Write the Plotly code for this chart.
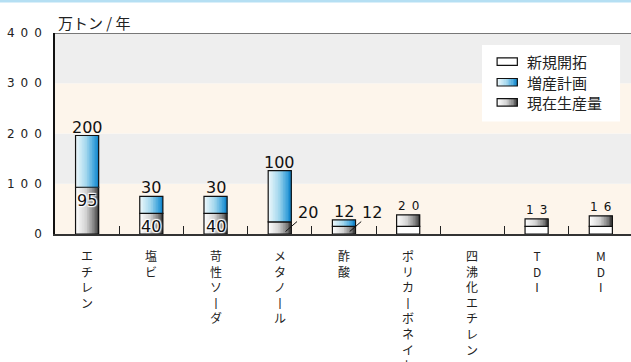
import plotly.graph_objects as go

# ---------------- data ----------------
categories = ['エチレン', '塩ビ', '苛性ソーダ', 'メタノール', '酢酸',
              'ポリカーボネイト', '四沸化エチレン', 'TDI', 'MDI']
# heights of each segment as drawn in the chart (万トン/年 axis units)
new_h = [0, 0, 0, 0, 0, 15, 0, 15, 15]          # 新規開拓
cur_h = [93, 41, 41, 24, 15, 23, 0, 15, 21]      # 現在生産量
exp_h = [103, 34, 34, 102, 13, 0, 0, 0, 0]       # 増産計画
# value labels printed on the chart
new_lbl = ['', '', '', '', '', '20', '', '13', '16']
cur_lbl = ['95', '40', '40', '20', '12', '', '', '', '']
exp_lbl = ['200', '30', '30', '100', '12', '', '', '', '']
y_ticks = [0, 100, 200, 300, 400]
legend_names = ['新規開拓', '増産計画', '現在生産量']
unit_title = '万トン / 年'

# ---------------- style ----------------
JP = 'Noto Sans CJK JP'
NUM = 'DejaVu Sans'
W = 0.36
N = 14
gray_scale = [(0, (255, 255, 255)), (0.45, (212, 212, 212)), (0.8, (128, 128, 128)), (1, (55, 55, 55))]
blue_scale = [(0, (240, 249, 252)), (0.45, (165, 216, 238)), (0.8, (65, 165, 220)), (1, (12, 128, 200))]


def interp(scale, t):
    for (t0, c0), (t1, c1) in zip(scale[:-1], scale[1:]):
        if t0 <= t <= t1:
            f = (t - t0) / (t1 - t0)
            c = [round(a + (b - a) * f) for a, b in zip(c0, c1)]
            return 'rgb(%d,%d,%d)' % tuple(c)
    return 'rgb(%d,%d,%d)' % scale[-1][1]


fig = go.Figure()

base_new = [0] * len(categories)
base_cur = list(new_h)
base_exp = [a + b for a, b in zip(new_h, cur_h)]


def add_segment(h, base, scale):
    hv = [v if v > 0 else None for v in h]
    if scale is None:
        fig.add_bar(x=categories, y=hv, base=base, offset=-W / 2, width=W,
                    marker=dict(color='white', line=dict(width=0)),
                    showlegend=False, hoverinfo='skip')
    else:
        for k in range(N):
            t = (k + 0.5) / N
            fig.add_bar(x=categories, y=hv, base=base,
                        offset=-W / 2 + k * W / N, width=W - k * W / N,
                        marker=dict(color=interp(scale, t), line=dict(width=0)),
                        showlegend=False, hoverinfo='skip')
    fig.add_bar(x=categories, y=hv, base=base, offset=-W / 2, width=W,
                marker=dict(color='rgba(0,0,0,0)', line=dict(color='#111', width=1.2)),
                showlegend=False, hoverinfo='skip')


add_segment(new_h, base_new, None)
add_segment(cur_h, base_cur, gray_scale)
add_segment(exp_h, base_exp, blue_scale)

ann = []
shadow = '1px 1px 1px #fff, -1px -1px 1px #fff, 1px -1px 1px #fff, -1px 1px 1px #fff'
for i, c in enumerate(categories):
    if exp_lbl[i]:
        ann.append(dict(x=i, y=base_exp[i] + exp_h[i], text=exp_lbl[i], showarrow=False,
                        yanchor='bottom', yshift=-3, font=dict(family=NUM, size=16, color='#111')))
    if cur_lbl[i]:
        if cur_h[i] >= 30:
            ann.append(dict(x=i, y=base_cur[i] + cur_h[i], text=cur_lbl[i], showarrow=False,
                            yanchor='top', yshift=-2,
                            font=dict(family=NUM, size=16, color='#111', shadow=shadow)))
        else:
            ann.append(dict(x=i + 0.09, y=5, text=cur_lbl[i], showarrow=True, arrowhead=0,
                            arrowwidth=1, arrowcolor='#111', ax=22, ay=-19, standoff=0,
                            borderpad=0, font=dict(family=NUM, size=16, color='#111')))
    if new_lbl[i]:
        ann.append(dict(x=i, y=new_h[i] + cur_h[i] + exp_h[i], text='\u2002'.join(new_lbl[i]),
                        showarrow=False, yanchor='bottom', yshift=0,
                        font=dict(family=NUM, size=12, color='#111')))
    # vertical category label, one character per line (long vowel mark drawn upright)
    vert = '<br>'.join('丨' if ch == 'ー' else ch for ch in c)
    ann.append(dict(x=i, xref='x', y=0, yref='paper', text=vert, showarrow=False,
                    yanchor='top', yshift=-12, borderpad=0, align='center',
                    font=dict(family=JP, size=12, color='#222')))

ann.append(dict(x=0, xref='paper', y=1, yref='paper', text=unit_title, showarrow=False,
                xanchor='left', yanchor='middle', xshift=1, yshift=11,
                font=dict(family=JP, size=15, color='#222')))

shapes = []
# background bands
band_colors = ['#fdf5eb', '#eeeeee', '#fdf5eb', '#eeeeee']
for k in range(4):
    shapes.append(dict(type='rect', xref='paper', yref='y', x0=0, x1=1,
                       y0=y_ticks[k], y1=y_ticks[k + 1], fillcolor=band_colors[k],
                       line=dict(width=0), layer='below'))
# top border
shapes.append(dict(type='line', xref='paper', yref='y', x0=0, x1=1, y0=400, y1=400,
                   line=dict(color='#777', width=2)))
# top blue strip
shapes.append(dict(type='rect', xref='paper', yref='paper', ysizemode='pixel', yanchor=1,
                   x0=-0.2, x1=1.1, y0=30.5, y1=34, fillcolor='#b5dff3', line=dict(width=0)))

# legend (data coordinates)
lx0, lx1 = 6.15, 8.30
shapes.append(dict(type='rect', xref='x', yref='y', x0=lx0, x1=lx1, y0=224, y1=376,
                   fillcolor='white', line=dict(width=0)))
sx0, sx1 = 6.385, 6.70
rows = [343, 302, 262]
scales = [None, blue_scale, gray_scale]
for r, sc, name in zip(rows, scales, legend_names):
    if sc is not None:
        M = 12
        for k in range(M):
            shapes.append(dict(type='rect', xref='x', yref='y',
                               x0=sx0 + (sx1 - sx0) * k / M, x1=sx0 + (sx1 - sx0) * (k + 1) / M + 0.005,
                               y0=r - 7.5, y1=r + 7.5, fillcolor=interp(sc, (k + 0.5) / M),
                               line=dict(width=0)))
    shapes.append(dict(type='rect', xref='x', yref='y', x0=sx0, x1=sx1, y0=r - 7.5, y1=r + 7.5,
                       fillcolor='rgba(0,0,0,0)' if sc else 'white',
                       line=dict(color='#111', width=1.2)))
    ann.append(dict(x=6.82, y=r, text=name, showarrow=False, xanchor='left', yanchor='middle',
                    font=dict(family=JP, size=15, color='#222')))

fig.update_layout(
    width=631, height=362,
    margin=dict(l=55, r=0, t=33, b=128),
    paper_bgcolor='white', plot_bgcolor='white',
    barmode='overlay', showlegend=False,
    annotations=ann, shapes=shapes,
    xaxis=dict(type='category', categoryorder='array', categoryarray=categories,
               range=[-0.5, 8.47], showticklabels=False, ticks='inside', tickson='boundaries',
               ticklen=8, tickcolor='#222', tickwidth=1, showline=True, linecolor='#333',
               linewidth=1.5, showgrid=False, zeroline=False, fixedrange=True),
    yaxis=dict(range=[0, 400], tickvals=y_ticks,
               ticktext=['\u2002'.join(str(v)) for v in y_ticks],
               tickfont=dict(family=NUM, size=12, color='#222'), ticks='',
               ticklabelstandoff=9, showline=True, linecolor='#111', linewidth=1.5,
               showgrid=False, zeroline=False, fixedrange=True),
)

fig.write_html('out.html')
